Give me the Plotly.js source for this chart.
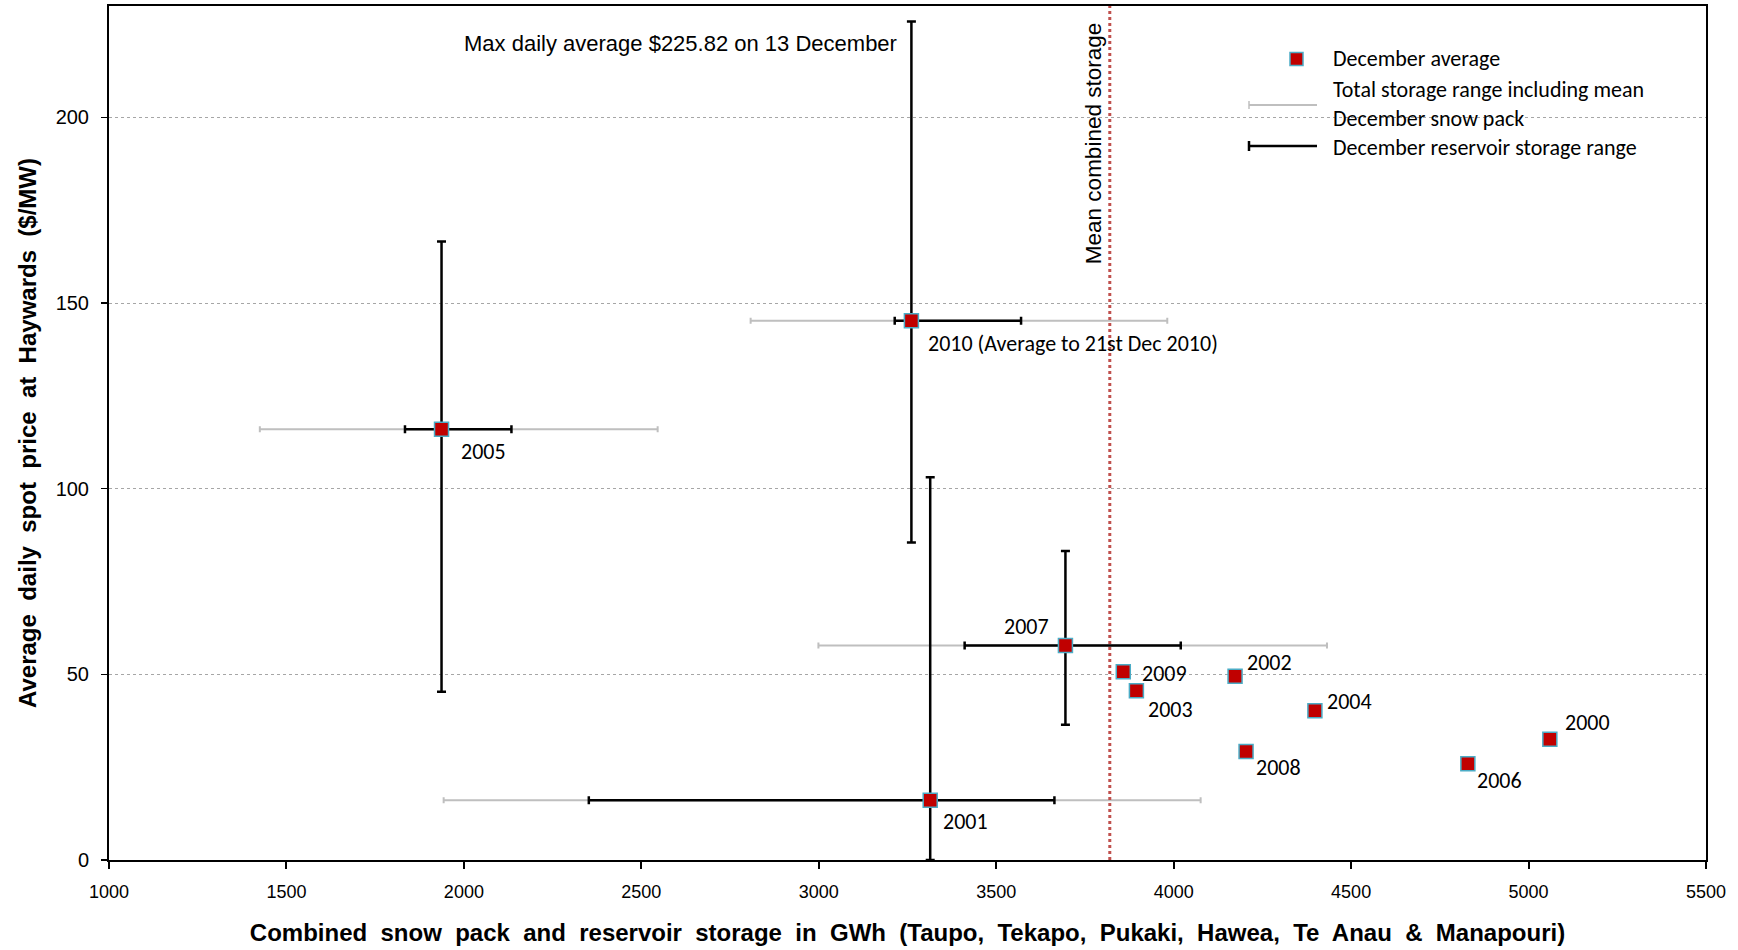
<!DOCTYPE html>
<html><head><meta charset="utf-8">
<script src="https://cdn.plot.ly/plotly-3.0.1.min.js"></script>
<style>html,body{margin:0;padding:0;background:#fff}#chart{width:1738px;height:950px}</style>
</head><body><div id="chart"></div>
<script>
// ---- data ----
const years = ['2000','2001','2002','2003','2004','2005','2006','2007','2008','2009','2010'];
const yearLabels = ['2000','2001','2002','2003','2004','2005','2006','2007','2008','2009','2010 (Average to 21st Dec 2010)'];
const storage = [5060, 3314, 4173, 3895, 4398, 1937, 4829, 3695, 4204, 3858, 3261];
const avgPrice = [32.5, 16.1, 49.5, 45.6, 40.2, 116.0, 25.9, 57.8, 29.2, 50.7, 145.2];

const rangeYears = ['2001','2005','2007','2010'];
const priceMin = [0, 45.3, 36.4, 85.5];
const priceMax = [103.1, 166.6, 83.2, 225.82];
const reservoirMin = [2352, 1834, 3411, 3214];
const reservoirMax = [3664, 2134, 4020, 3570];
const totalMin = [1943, 1425, 2999, 2808];
const totalMax = [4076, 2546, 4432, 3982];

const meanCombinedStorage = [3820];
const xTickVals = [1000,1500,2000,2500,3000,3500,4000,4500,5000,5500];
const yTickVals = [0,50,100,150,200];

// ---- label placement (pixels) ----
const labelStyle = {
  '2000':{dx:13,dy:-17,anchor:'left'}, '2001':{dx:11,dy:21,anchor:'left'},
  '2002':{dx:10,dy:-14,anchor:'left'}, '2003':{dx:10,dy:19,anchor:'left'},
  '2004':{dx:10,dy:-9,anchor:'left'},  '2005':{dx:17,dy:22,anchor:'left'},
  '2006':{dx:7,dy:17,anchor:'left'},   '2007':{dx:-14,dy:-19,anchor:'right'},
  '2008':{dx:8,dy:16,anchor:'left'},   '2009':{dx:17,dy:2,anchor:'left'},
  '2010':{dx:15,dy:23,anchor:'left'}
};

const W=1738,H=950, M={l:109,r:32,t:6,b:90};
const PW=W-M.l-M.r, PH=H-M.t-M.b;
const px = x => (x-M.l)/PW;
const py = y => (H-M.b-y)/PH;

const idx = rangeYears.map(y => years.indexOf(y));
const rx = idx.map(i => storage[i]);
const ry = idx.map(i => avgPrice[i]);

const MARK='#C00000', EDGE='#4BACC6', LABF='Carlito, Lato, sans-serif', ARIAL='Liberation Sans, Arial, sans-serif';

const traces = [
  { type:'scatter', mode:'markers', x:rx, y:ry, marker:{size:1,color:'rgba(0,0,0,0)'},
    error_x:{type:'data',symmetric:false,
      array: rx.map((v,k)=>totalMax[k]-v), arrayminus: rx.map((v,k)=>v-totalMin[k]),
      color:'#BFBFBF', thickness:2, width:3},
    hoverinfo:'skip', showlegend:false },
  { type:'scatter', mode:'markers', x:rx, y:ry, marker:{size:1,color:'rgba(0,0,0,0)'},
    error_x:{type:'data',symmetric:false,
      array: rx.map((v,k)=>reservoirMax[k]-v), arrayminus: rx.map((v,k)=>v-reservoirMin[k]),
      color:'#000', thickness:2.5, width:4},
    error_y:{type:'data',symmetric:false,
      array: ry.map((v,k)=>priceMax[k]-v), arrayminus: ry.map((v,k)=>v-priceMin[k]),
      color:'#000', thickness:2.5, width:4.5},
    hoverinfo:'skip', showlegend:false },
  { type:'scatter', mode:'markers', x:storage, y:avgPrice, text:years,
    marker:{symbol:'square', size:14, color:MARK, line:{color:EDGE,width:1.5}},
    showlegend:false }
];

const annotations = years.map((y,i)=>{
  const s = labelStyle[y];
  return {x:storage[i], y:avgPrice[i], text:yearLabels[i], showarrow:false,
    xanchor:s.anchor, yanchor:'middle', xshift:s.dx, yshift:-s.dy,
    font:{family:LABF,size:22,color:'#000'}};
});
const i2010 = rangeYears.indexOf('2010');
annotations.push({x:rx[i2010], y:priceMax[i2010], text:'Max daily average $225.82 on 13 December',
  showarrow:false, xanchor:'right', yanchor:'middle', xshift:-12, yshift:-22,
  font:{family:ARIAL, size:22, color:'#000'}});
annotations.push({x:meanCombinedStorage[0], y:193, text:'Mean combined storage', textangle:-90,
  showarrow:false, xanchor:'center', yanchor:'middle', xshift:-16,
  font:{family:ARIAL, size:22.5, color:'#000'}});
// legend texts
const legF = {family:LABF,size:22,color:'#000'};
const legendRows = [
  ['December average',59], ['Total storage range including mean',89],
  ['December snow pack',118], ['December reservoir storage range',148]
];
legendRows.forEach(([t,yy])=>annotations.push({xref:'paper',yref:'paper',x:px(1332),y:py(yy),text:t,
  showarrow:false,xanchor:'left',yanchor:'middle',borderpad:0,font:legF}));

const shapes = [
  {type:'line', xref:'x', yref:'paper', x0:meanCombinedStorage[0], x1:meanCombinedStorage[0], y0:0, y1:1,
   line:{color:'#C0504D', width:3, dash:'dot'}, layer:'above'},
  {type:'rect', xref:'paper', yref:'paper', x0:px(1240), x1:px(1700), y0:py(165), y1:py(38),
   fillcolor:'#fff', line:{width:0}, layer:'between'},
  {type:'rect', xref:'paper', yref:'paper', x0:px(1290), x1:px(1303), y0:py(65.5), y1:py(52.5),
   fillcolor:MARK, line:{color:EDGE,width:1.5}, layer:'above'},
  {type:'line', xref:'paper', yref:'paper', x0:px(1249), x1:px(1317), y0:py(105), y1:py(105),
   line:{color:'#BFBFBF',width:2}, layer:'above'},
  {type:'line', xref:'paper', yref:'paper', x0:px(1249), x1:px(1249), y0:py(101), y1:py(109),
   line:{color:'#BFBFBF',width:1.5}, layer:'above'},
  {type:'line', xref:'paper', yref:'paper', x0:px(1249), x1:px(1317), y0:py(146), y1:py(146),
   line:{color:'#000',width:2.5}, layer:'above'},
  {type:'line', xref:'paper', yref:'paper', x0:px(1249), x1:px(1249), y0:py(141), y1:py(151),
   line:{color:'#000',width:2.5}, layer:'above'}
];

const layout = {
  width:W, height:H, margin:M, paper_bgcolor:'#fff', plot_bgcolor:'#fff',
  showlegend:false, hovermode:'closest',
  xaxis:{range:[1000,5500], tickvals:xTickVals, ticks:'outside', ticklen:7, tickwidth:2, tickcolor:'#000',
    showline:true, linewidth:2, linecolor:'#000', mirror:true, showgrid:false, zeroline:false,
    ticklabelstandoff:7,
    tickfont:{family:ARIAL, size:18, color:'#000'},
    title:{text:'Combined  snow  pack  and  reservoir  storage  in  GWh  (Taupo,  Tekapo,  Pukaki,  Hawea,  Te  Anau  &  Manapouri)',
      font:{family:ARIAL, size:24, color:'#000', weight:'bold'}, standoff:24}},
  yaxis:{range:[0,230], tickvals:yTickVals, ticks:'outside', ticklen:6, tickwidth:1.5, tickcolor:'#000',
    showline:true, linewidth:2, linecolor:'#000', mirror:true, showgrid:true, gridcolor:'#a6a6a6', griddash:'dot', gridwidth:1,
    zeroline:false, ticklabelstandoff:8,
    tickfont:{family:ARIAL, size:20, color:'#000'},
    title:{text:'Average  daily  spot  price  at  Haywards  ($/MW)',
      font:{family:ARIAL, size:24, color:'#000', weight:'bold'}, standoff:12}},
  annotations, shapes
};
Plotly.newPlot('chart', traces, layout, {displayModeBar:false, staticPlot:true});
</script></body></html>
